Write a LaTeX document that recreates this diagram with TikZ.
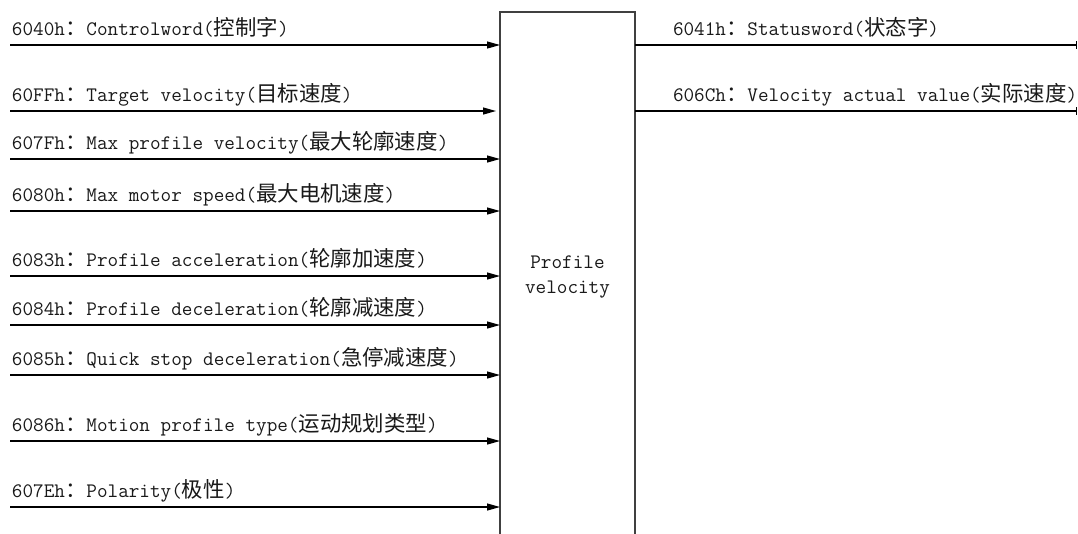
\documentclass[tikz,border=0pt]{standalone}
\usepackage{fontspec}
\newfontfamily\cjkfont{Noto Sans CJK SC}[Scale=1.04]
\newcommand{\zh}[1]{{\cjkfont #1}}
\usetikzlibrary{arrows.meta}
\begin{document}
\begin{tikzpicture}[x=1pt,y=-1pt,
  lbl/.style={anchor=base west, inner sep=0pt, outer sep=0pt, font=\ttfamily\fontsize{20.6}{22}\selectfont, text=black!90},
  inarrow/.style={line width=1.2pt, draw=black, -{Triangle[length=13pt,width=7pt]}},
  outline/.style={line width=1.2pt, draw=black, -{Bar[width=8pt,line width=1.2pt]}},
  pvbox/.style={draw=black!75, line width=1.6pt, inner sep=0pt, outer sep=0pt}]
\useasboundingbox (0,0) rectangle (1078,533);
\clip (0,0) rectangle (1078,533);
% central block
\node[pvbox, anchor=north west, minimum width=135pt, minimum height=540pt] (pv) at (500,12) {};
\node[inner sep=0pt, align=center, font=\ttfamily\fontsize{20.6}{25}\selectfont, text=black!90] (pvl) at (567.5,276.5) {Profile\\velocity};
% input start points
\coordinate (s1) at (10,45);
\coordinate (s2) at (10,111);
\coordinate (s3) at (10,159);
\coordinate (s4) at (10,211);
\coordinate (s5) at (10,276);
\coordinate (s6) at (10,325);
\coordinate (s7) at (10,375);
\coordinate (s8) at (10,441);
\coordinate (s9) at (10,507);
% input labels
\node[lbl] (l1) at (12,35) {6040h\zh{：}Controlword(\zh{控制字})};
\node[lbl] (l2) at (12,101) {60FFh\zh{：}Target velocity(\zh{目标速度})};
\node[lbl] (l3) at (12,149) {607Fh\zh{：}Max profile velocity(\zh{最大轮廓速度})};
\node[lbl] (l4) at (12,201) {6080h\zh{：}Max motor speed(\zh{最大电机速度})};
\node[lbl] (l5) at (12,266) {6083h\zh{：}Profile acceleration(\zh{轮廓加速度})};
\node[lbl] (l6) at (12,315) {6084h\zh{：}Profile deceleration(\zh{轮廓减速度})};
\node[lbl] (l7) at (12,365) {6085h\zh{：}Quick stop deceleration(\zh{急停减速度})};
\node[lbl] (l8) at (12,431) {6086h\zh{：}Motion profile type(\zh{运动规划类型})};
\node[lbl] (l9) at (12,497) {607Eh\zh{：}Polarity(\zh{极性})};
% input arrows
\draw[inarrow] (s1) -- (pv.west |- s1);
\draw[inarrow, shorten >=4pt] (s2) -- (pv.west |- s2);
\draw[inarrow] (s3) -- (pv.west |- s3);
\draw[inarrow] (s4) -- (pv.west |- s4);
\draw[inarrow] (s5) -- (pv.west |- s5);
\draw[inarrow] (s6) -- (pv.west |- s6);
\draw[inarrow] (s7) -- (pv.west |- s7);
\draw[inarrow] (s8) -- (pv.west |- s8);
\draw[inarrow] (s9) -- (pv.west |- s9);
% outputs
\coordinate (e1) at (1077,45);
\coordinate (e2) at (1077,111);
\node[lbl] (r1) at (673,35) {6041h\zh{：}Statusword(\zh{状态字})};
\node[lbl] (r2) at (673,101) {606Ch\zh{：}Velocity actual value(\zh{实际速度})};
\draw[outline] (pv.east |- e1) -- (e1);
\draw[outline] (pv.east |- e2) -- (e2);
\end{tikzpicture}
\end{document}
